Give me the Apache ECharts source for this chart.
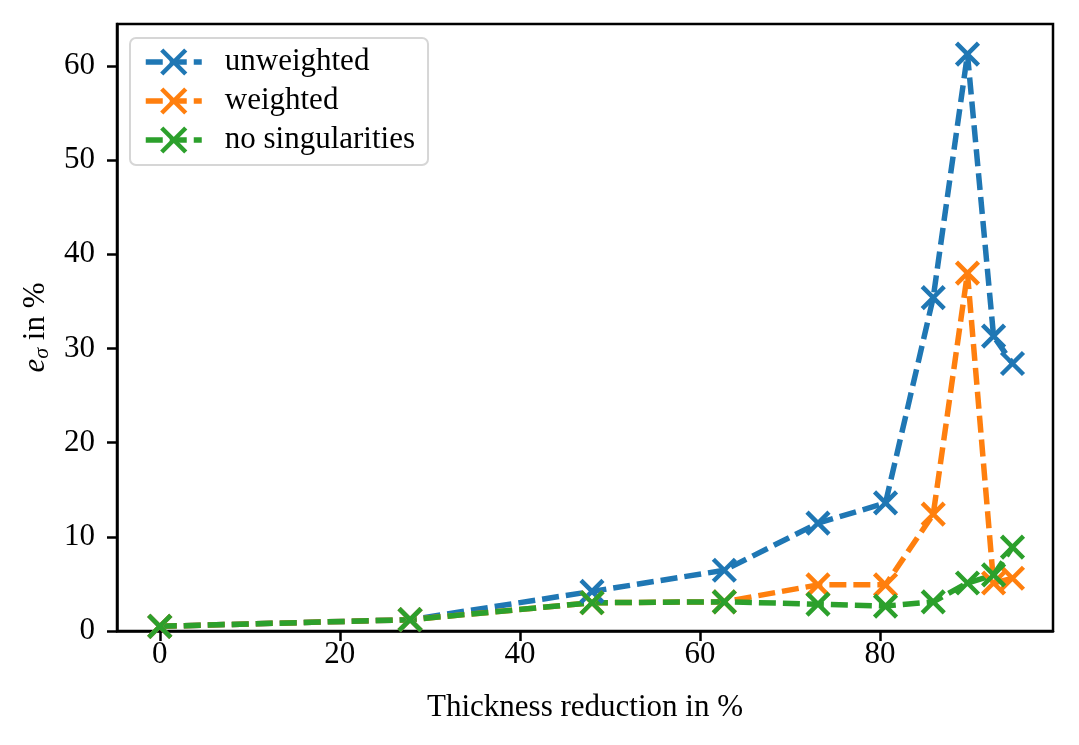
<!DOCTYPE html>
<html>
<head>
<meta charset="utf-8">
<script src="https://cdn.jsdelivr.net/npm/echarts@6/dist/echarts.min.js"></script>
<style>html,body{margin:0;padding:0;background:#fff;}#c{width:1079px;height:745px;}</style>
</head>
<body>
<div id="c"></div>
<script>
const thickness = [0, 27.8, 48.0, 62.7, 73.1, 80.6, 85.9, 89.7, 92.6, 94.7];
const unweighted = [0.5, 1.2, 4.2, 6.45, 11.45, 13.6, 35.4, 61.25, 31.3, 28.4];
const weighted = [0.5, 1.2, 3.0, 3.1, 4.9, 4.9, 12.4, 38.0, 5.1, 5.6];
const noSingularities = [0.5, 1.2, 3.0, 3.1, 2.85, 2.65, 3.1, 5.1, 5.95, 8.9];
const xTicks = [0, 20, 40, 60, 80];
const yTicks = [0, 10, 20, 30, 40, 50, 60];
const seriesNames = ['unweighted', 'weighted', 'no singularities'];
const colors = ['#1f77b4', '#ff7f0e', '#2ca02c'];

const FONT = 'Liberation Serif';
const X_PATH = 'path://M0,0L10,10M10,0L0,10';
const LW = 5.5;
const DASH = [17, 7];

function pairs(ys) { return thickness.map((x, i) => [x, ys[i]]); }

function mk(name, ys, color) {
  return {
    name: name,
    type: 'line',
    data: pairs(ys),
    symbol: X_PATH,
    symbolSize: 22,
    showAllSymbol: true,
    color: color,
    lineStyle: { color: color, width: LW, type: DASH },
    itemStyle: { color: 'rgba(0,0,0,0)', borderColor: color, borderWidth: 4.5 },
    emphasis: { disabled: true },
    animation: false
  };
}

const chart = echarts.init(document.getElementById('c'));
chart.setOption({
  backgroundColor: '#fff',
  animation: false,
  grid: { left: 117, right: 26, top: 24, bottom: 114, show: true, borderColor: '#000', borderWidth: 2.5, backgroundColor: 'transparent' },
  legend: {
    left: 130, top: 38,
    orient: 'vertical',
    data: seriesNames.map((n, i) => ({
      name: n,
      lineStyle: { color: colors[i], width: LW, type: DASH },
      itemStyle: { color: 'rgba(0,0,0,0)', borderColor: colors[i], borderWidth: 4.5 }
    })),
    itemWidth: 56, itemHeight: 30, itemGap: 7,
    padding: [8, 13, 9, 13],
    borderColor: '#d6d6d6', borderWidth: 2, borderRadius: 6,
    backgroundColor: 'rgba(255,255,255,0.8)',
    textStyle: { fontFamily: FONT, fontSize: 31, color: '#000', lineHeight: 32, padding: [0, 0, 0, 18] },
    selectedMode: false
  },
  xAxis: {
    type: 'value', min: -4.75, max: 99.2,
    name: 'Thickness reduction in %', nameLocation: 'middle', nameGap: 61,
    nameTextStyle: { fontFamily: FONT, fontSize: 31, color: '#000' },
    axisLine: { show: true, onZero: false, lineStyle: { color: '#000', width: 2.5 } },
    axisTick: { show: true, inside: false, length: 10, lineStyle: { color: '#000', width: 2.5 }, customValues: xTicks },
    axisLabel: { fontFamily: FONT, fontSize: 31, color: '#000', margin: 8, customValues: xTicks },
    splitLine: { show: false }
  },
  yAxis: {
    type: 'value', min: 0, max: 64.45,
    name: '{e|e}{s|σ}{n| in %}', nameLocation: 'middle', nameGap: 64, nameRotate: 90,
    nameTextStyle: {
      fontFamily: FONT, fontSize: 31, color: '#000',
      rich: {
        e: { fontFamily: FONT, fontSize: 31, fontStyle: 'italic', color: '#000' },
        s: { fontFamily: FONT, fontSize: 22, fontStyle: 'italic', color: '#000', padding: [12, 0, 0, 0] },
        n: { fontFamily: FONT, fontSize: 31, color: '#000' }
      }
    },
    axisLine: { show: true, onZero: false, lineStyle: { color: '#000', width: 2.5 } },
    axisTick: { show: true, inside: false, length: 10, lineStyle: { color: '#000', width: 2.5 }, customValues: yTicks },
    axisLabel: { fontFamily: FONT, fontSize: 31, color: '#000', margin: 22, customValues: yTicks },
    splitLine: { show: false }
  },
  series: [
    mk(seriesNames[0], unweighted, colors[0]),
    mk(seriesNames[1], weighted, colors[1]),
    mk(seriesNames[2], noSingularities, colors[2])
  ]
});
</script>
</body>
</html>
